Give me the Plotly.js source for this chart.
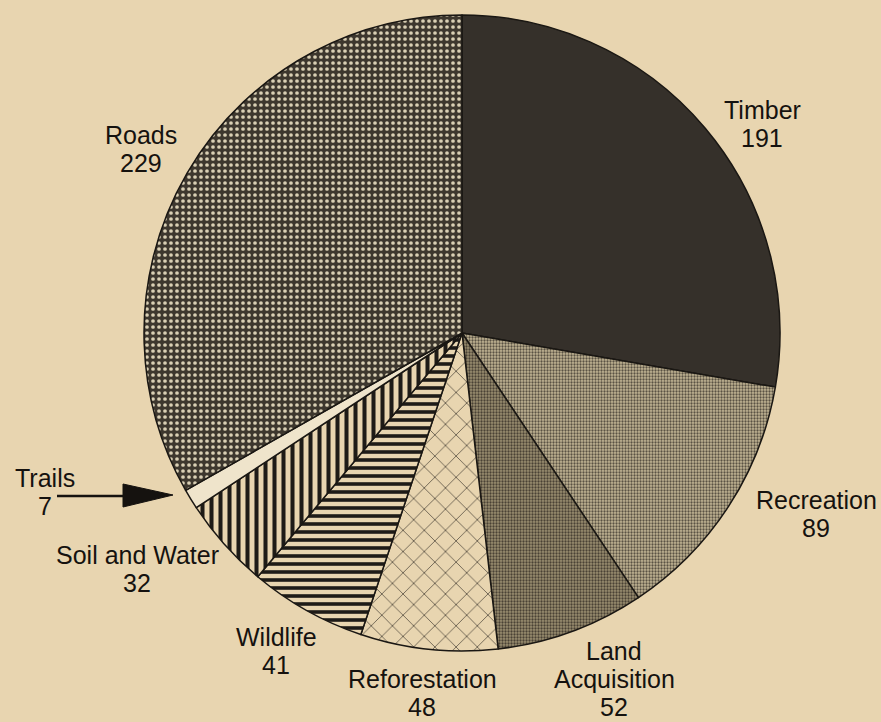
<!DOCTYPE html>
<html>
<head>
<meta charset="utf-8">
<script src="https://cdn.plot.ly/plotly-3.0.1.min.js"></script>
<style>
html,body{margin:0;padding:0;background:#e8d5b0;}
#chart{width:881px;height:722px;}
</style>
</head>
<body>
<div id="chart"></div>
<script>
const categories = ["Timber", "Recreation", "Land Acquisition", "Reforestation", "Wildlife", "Soil and Water", "Trails", "Roads"];
const values = [191, 89, 52, 48, 41, 32, 7, 229];
const nameLines = [["Timber"], ["Recreation"], ["Land", "Acquisition"], ["Reforestation"], ["Wildlife"], ["Soil and Water"], ["Trails"], ["Roads"]];

const bg = "#e8d5b0";
const W = 881, H = 722;
const cx = 462, cy = 333, R = 318;

const patterns = {
  shape: [".", ".", ".", "x", "-", "|", "", "."],
  bgcolor: ["#35302a", "#c2b594", "#9a8e70", bg, bg, bg, "#efe4cb", "#3d372e"],
  fgcolor: ["#35302a", "#5a5244", "#4a4235", "#2a2620", "#1e1b17", "#1e1b17", "#efe4cb", "#d9cfb4"],
  size: [8, 3, 3, 15, 8, 9, 8, 6],
  solidity: [0.01, 0.45, 0.45, 0.08, 0.45, 0.45, 0.3, 0.3],
  fillmode: "replace"
};

const trace = {
  type: "pie",
  labels: categories,
  values: values,
  sort: false,
  direction: "clockwise",
  rotation: 0,
  textinfo: "none",
  hoverinfo: "none",
  showlegend: false,
  domain: {x: [(cx - R) / W, (cx + R) / W], y: [(H - cy - R) / H, (H - cy + R) / H]},
  marker: {
    colors: patterns.bgcolor,
    line: {color: "#1a1713", width: 1.5},
    pattern: patterns
  }
};

// first-line centers (pixels); each following line 28px lower
const labelPos = [[762, 110], [816, 500], [614, 651], [422, 679], [276, 637], [137, 555], [45, 478], [141, 135]];
const lineGap = 28;
const fnt = {family: "Liberation Sans, Arial, sans-serif", size: 25, color: "#15120f"};
const annotations = [];
categories.forEach((c, i) => {
  const lines = nameLines[i].concat([String(values[i])]);
  lines.forEach((t, k) => {
    const yy = labelPos[i][1] + k * lineGap;
    annotations.push({
      x: labelPos[i][0] / W, y: 1 - yy / H, xref: "paper", yref: "paper",
      text: t, showarrow: false, font: fnt, xanchor: "center", yanchor: "middle"
    });
  });
});

// Trails arrow (shaft + triangular head)
const px = (x) => x / W, py = (y) => 1 - y / H;
const shapes = [
  {type: "line", xref: "paper", yref: "paper", x0: px(57), y0: py(496), x1: px(130), y1: py(496),
   line: {color: "#15120f", width: 2.5}},
  {type: "path", xref: "paper", yref: "paper",
   path: `M ${px(123)},${py(484)} L ${px(173)},${py(495)} L ${px(123)},${py(507)} Z`,
   fillcolor: "#15120f", line: {color: "#15120f", width: 1}}
];

const layout = {
  width: W, height: H,
  margin: {l: 0, r: 0, t: 0, b: 0},
  paper_bgcolor: bg, plot_bgcolor: bg,
  annotations: annotations,
  shapes: shapes
};

Plotly.newPlot("chart", [trace], layout, {displayModeBar: false, staticPlot: true});
</script>
</body>
</html>
